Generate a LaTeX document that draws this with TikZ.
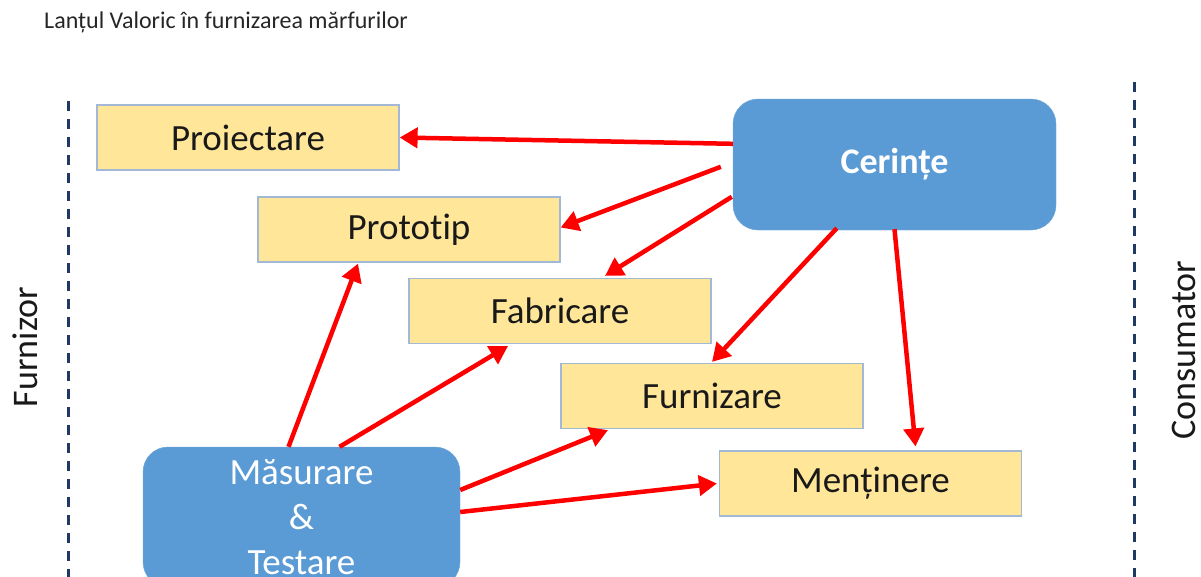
\documentclass[tikz,border=0pt]{standalone}
\usepackage{fontspec}
\setmainfont[Ligatures=NoCommon]{Carlito}
\usetikzlibrary{arrows.meta}
\definecolor{boxyellow}{HTML}{FFE699}
\definecolor{boxedge}{HTML}{A3B8D4}
\definecolor{boxblue}{HTML}{5B9BD5}
\definecolor{navy}{HTML}{203864}
\definecolor{arrred}{HTML}{FF0000}
\begin{document}
\begin{tikzpicture}[x=1pt,y=-1pt,
  stepbox/.style={draw=boxedge, line width=1.2pt, fill=boxyellow, minimum width=302pt, minimum height=65pt, inner sep=0pt, font=\fontsize{37}{44}\selectfont, text=black!90},
  bluebox/.style={draw=boxblue!90!white, fill=boxblue, rounded corners=25pt, inner sep=0pt, text=white},
  flow/.style={draw=arrred, line width=4.5pt, -{Triangle[length=18pt,width=20pt]}},
  border/.style={draw=navy, line width=3pt, dash pattern=on 10pt off 8pt},
  side/.style={font=\fontsize{36}{42}\selectfont, rotate=90, inner sep=0pt, text=black!90}]
\useasboundingbox (0,0) rectangle (1201,576);
\clip (0,0) rectangle (1201,576);
\fill[white] (0,0) rectangle (1201,576);

\node[anchor=west, inner sep=0pt, font=\fontsize{24}{28}\selectfont, text=black!85] (title) at (44,22) {Lanțul Valoric în furnizarea mărfurilor};

\coordinate (ltop) at (68,101);
\coordinate (lbot) at (68,580);
\coordinate (rtop) at (1134,82);
\coordinate (rbot) at (1134,580);
\draw[border] (ltop) -- (lbot);
\draw[border] (rtop) -- (rbot);

\node[side] (furnizor) at (25,347) {Furnizor};
\node[side] (consumator) at (1184,350) {Consumator};

\node[stepbox] (proi) at (248,137.5) {Proiectare};
\node[stepbox] (proto) at (409,229.5) {Prototip};
\node[stepbox] (fab) at (560,311) {Fabricare};
\node[stepbox] (furn) at (712,396) {Furnizare};
\node[stepbox] (ment) at (870.5,483.5) {Menținere};
\node[bluebox, minimum width=323pt, minimum height=131pt, font=\bfseries\fontsize{36}{42}\selectfont] (cer) at (894.5,164.5) {Cerințe};
\node[bluebox, minimum width=317pt, minimum height=140pt, align=center, font=\fontsize{37}{45}\selectfont] (mas) at (301.5,517) {Măsurare\\\&\\Testare};

\draw[flow] ([yshift=-45pt]cer.north west) -- (proi.east);
\draw[flow] ([xshift=-12pt,yshift=-68pt]cer.north west) -- ([yshift=2pt]proto.east);
\draw[flow] ([xshift=-1pt,yshift=-98pt]cer.north west) -- ([xshift=45pt,yshift=2pt]fab.north);
\draw[flow] ([xshift=104pt,yshift=2pt]cer.south west) -- ([yshift=1pt]furn.north);
\draw[flow] ([yshift=1pt]cer.south) -- ([xshift=45pt,yshift=4pt]ment.north);

\draw[flow] ([xshift=-13pt]mas.north) -- ([xshift=-51pt,yshift=-1pt]proto.south);
\draw[flow] ([xshift=38pt]mas.north) -- ([xshift=-52pt,yshift=-2pt]fab.south);
\draw[flow] ([yshift=27pt]mas.east) -- ([xshift=-104pt,yshift=-1pt]furn.south);
\draw[flow] ([yshift=5pt]mas.east) -- ([xshift=-2pt]ment.west);
\end{tikzpicture}
\end{document}
